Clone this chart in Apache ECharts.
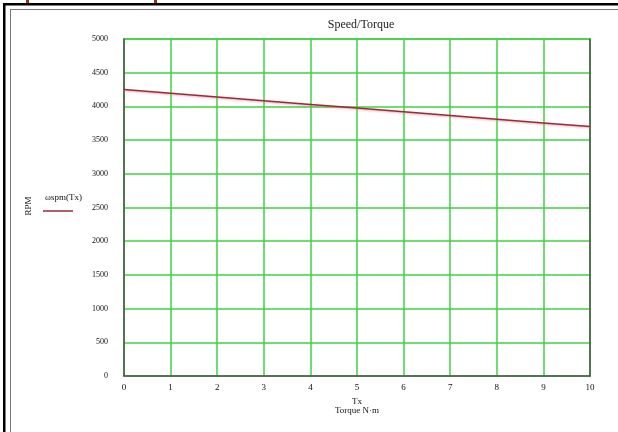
<!DOCTYPE html>
<html><head><meta charset="utf-8">
<script src="https://cdn.jsdelivr.net/npm/echarts@6/dist/echarts.min.js"></script>
<style>html,body{margin:0;padding:0;background:#fff}#c{width:618px;height:432px}</style>
</head><body><div id="c"></div>
<script>
const torque = [0,1,2,3,4,5,6,7,8,9,10];
const rpm = [4250,4195,4140,4085,4030,3975,3920,3865,3810,3755,3700];
const titleText = 'Speed/Torque';
const legendText = 'ωspm(Tx)';
const yName = 'RPM';
const xName = 'Tx\nTorque N·m';

const chart = echarts.init(document.getElementById('c'), null, {renderer:'canvas'});
const serif = '"Liberation Serif","DejaVu Serif",serif';
chart.setOption({
  animation:false,
  backgroundColor:'#fff',
  title:{text:titleText,left:356,textAlign:'center',top:14,textStyle:{fontFamily:serif,fontSize:12,fontWeight:'normal',color:'#222'}},
  grid:{left:124,right:28,top:39,bottom:56,show:true,borderColor:'#3fd23f',borderWidth:1.5,backgroundColor:'transparent'},
  xAxis:{type:'value',min:0,max:10,interval:1,
    axisLine:{show:true,onZero:false,lineStyle:{color:'#555',width:1.5}},
    axisTick:{show:false},
    splitLine:{show:true,lineStyle:{color:'#3fd23f',width:1.5}},
    axisLabel:{fontFamily:serif,fontSize:9,color:'#111',margin:7,showMinLabel:true,showMaxLabel:true},
    name:xName,nameLocation:'middle',nameGap:20,nameTextStyle:{fontFamily:serif,fontSize:9,color:'#111',lineHeight:9}
  },
  yAxis:[{type:'value',min:0,max:5000,interval:500,
    axisLine:{show:true,lineStyle:{color:'#555',width:1.5}},
    axisTick:{show:false},
    splitLine:{show:true,lineStyle:{color:'#3fd23f',width:1.5}},
    axisLabel:{fontFamily:serif,fontSize:8,color:'#111',margin:16,formatter:v=>String(v)}
  },{type:'value',min:0,max:5000,interval:500,position:'right',
    axisLine:{show:true,lineStyle:{color:'#555',width:1.5}},
    axisTick:{show:false},splitLine:{show:false},axisLabel:{show:false}}],
  series:[{type:'line',data:torque.map((t,i)=>[t,rpm[i]]),showSymbol:false,
    lineStyle:{color:'#9b2a35',width:1.5,shadowColor:'rgba(220,120,130,0.6)',shadowBlur:2,shadowOffsetY:1}}],
  graphic:[
    {type:'rect',shape:{x:3,y:3,width:615,height:2.5},style:{fill:'#000'}},
    {type:'rect',shape:{x:3,y:3,width:2.5,height:429},style:{fill:'#000'}},
    {type:'rect',shape:{x:10,y:9,width:608,height:1},style:{fill:'#777'}},
    {type:'rect',shape:{x:10,y:9,width:1,height:423},style:{fill:'#777'}},
    {type:'rect',shape:{x:26,y:0,width:3,height:3},style:{fill:'#8b3a10'}},
    {type:'rect',shape:{x:154,y:0,width:3,height:3},style:{fill:'#8b3a10'}},
    {type:'text',x:29,y:206,rotation:Math.PI/2,style:{text:yName,fontFamily:serif,fontSize:9,fill:'#111',align:'center',verticalAlign:'middle'}},
    {type:'text',x:45,y:193,style:{text:legendText,fontFamily:serif,fontSize:9,fill:'#111'}},
    {type:'line',shape:{x1:43,y1:211,x2:73,y2:211},style:{stroke:'#9b2a35',lineWidth:1.5}}
  ]
});
</script></body></html>
